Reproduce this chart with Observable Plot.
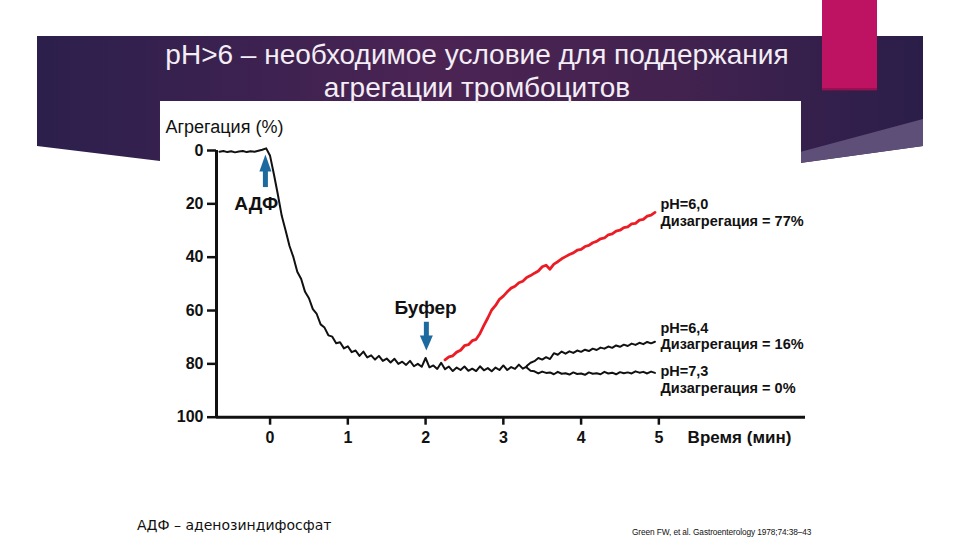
<!DOCTYPE html>
<html>
<head>
<meta charset="utf-8">
<script src="https://cdn.jsdelivr.net/npm/d3@7"></script>
<script src="https://cdn.jsdelivr.net/npm/@observablehq/plot@0.6"></script>
<style>
  html, body { margin: 0; padding: 0; background: #fff; }
  #slide { position: relative; width: 960px; height: 540px; overflow: hidden; background: #fff; font-family: "Liberation Sans", Arial, sans-serif; }
  #bg { position: absolute; left: 0; top: 0; }
  #title { position: absolute; left: 0; top: 38px; width: 954px; text-align: center; color: #f3edf5; font-size: 28px; line-height: 33px; }
  #chart { position: absolute; left: 150px; top: 100px; }
  #note { position: absolute; left: 137px; top: 517px; font-family: "DejaVu Sans", sans-serif; font-size: 14px; color: #111; }
  #cite { position: absolute; left: 632px; top: 527px; font-family: "Liberation Sans", Arial, sans-serif; font-size: 8.3px; color: #111; letter-spacing: -0.1px; }
</style>
</head>
<body>
<div id="slide">
  <svg id="bg" width="960" height="540">
    <defs>
      <linearGradient id="band" x1="0" x2="1" y1="0" y2="0">
        <stop offset="0" stop-color="#2c1f4c"/>
        <stop offset="0.45" stop-color="#4b2454"/>
        <stop offset="0.72" stop-color="#43224f"/>
        <stop offset="1" stop-color="#2a1e49"/>
      </linearGradient>
    </defs>
    <polygon points="37,36 923,36 923,146 800,163 160,161 37,146" fill="url(#band)"/>
    <polygon points="800,152 923,119 923,146 800,163" fill="#5e4f78"/>
    <rect x="822" y="0" width="55" height="90" fill="#be1262"/>
    <rect x="822" y="88" width="55" height="3" fill="#7a1048" opacity="0.6"/>
    <rect x="160" y="101" width="641" height="440" fill="#fff"/>
  </svg>
  <div id="title">pH&gt;6 – необходимое условие для поддержания<br>агрегации тромбоцитов</div>
  <div id="chart"></div>
  <div id="note">АДФ – аденозиндифосфат</div>
  <div id="cite">Green FW, et al. Gastroenterology 1978;74:38–43</div>
</div>
<script>
// ---- data (time in minutes, aggregation in %) ----
const dt = 0.05;
const baseStart = -0.65;
const baseValues = [0.5, 0.2, 0.6, 0.3, 0.7, 0.4, 0.2, 0.6, 0.3, 0.5, 0.1, -0.3, -0.8,
  2.0, 9.0, 16.5, 24.5, 30.0, 35.8, 40.0, 45.5, 48.2, 53.0, 55.4, 59.5, 61.3, 65.2, 66.4, 69.3, 69.8, 72.3, 71.9, 74.2,
  73.4, 75.6, 75.0, 77.0, 75.4, 77.6, 76.8, 78.4, 77.0, 78.9, 78.0, 79.5, 78.1, 80.0, 79.2, 80.4, 78.9, 80.9, 80.0, 81.1,
  77.8, 81.3, 80.6, 81.9, 79.6, 82.0, 81.0, 82.7, 81.4, 82.3, 81.0, 82.6, 81.8, 82.7, 80.9, 82.4, 81.6, 82.8, 81.4, 82.3,
  80.6, 82.3, 81.2, 81.9, 80.3, 81.8, 81.0];
const branchStart = 3.30;
const ph73Values = [81.4, 82.6, 82.8, 83.6, 82.9, 83.4, 83.2, 83.9, 83.0, 83.7, 83.5, 84.0, 83.2, 83.8, 83.6, 84.1, 83.2,
  83.7, 83.5, 83.9, 83.0, 83.6, 83.3, 83.9, 83.1, 83.5, 83.2, 83.6, 82.8, 83.3, 83.0, 83.6, 82.9, 83.4];
const ph64Values = [80.8, 79.6, 79.0, 77.8, 78.4, 77.5, 78.2, 76.0, 76.6, 75.4, 76.2, 75.3, 75.9, 75.0, 75.5,
  74.7, 75.2, 74.3, 74.8, 73.9, 74.3, 73.5, 74.0, 73.1, 73.6, 72.8, 73.3, 72.4, 72.9, 72.1, 72.6, 71.8, 72.3, 71.7];
const redStart = 2.25;
const ph60Values = [78.5, 77.4, 77.0, 75.6, 74.9, 73.2, 72.8, 71.3, 70.8, 68.6, 65.6, 62.8, 59.8, 58.1, 55.8, 54.6,
  53.0, 51.6, 50.9, 49.6, 49.0, 47.6, 46.9, 46.0, 45.2, 43.6, 43.0, 44.5, 42.6, 41.7, 40.6, 39.8, 39.0, 38.4, 37.4,
  37.1, 36.0, 35.6, 34.6, 34.1, 33.1, 32.8, 31.6, 31.3, 30.2, 29.9, 28.9, 28.6, 27.5, 27.3, 26.1, 25.8, 24.6, 24.2, 23.2];

const xDomain = [-0.689, 6.886];
const xTicks = [0, 1, 2, 3, 4, 5];
const yTicks = [0, 20, 40, 60, 80, 100];
const yLabel = "Агрегация (%)";
const xLabel = "Время (мин)";

// arrows: time, tail value, tip value
const arrowTimes = [-0.06, 2.01];
const arrowTails = [13.9, 64.4];
const arrowTips = [1.5, 75];
const arrowDirs = ["up", "down"];

const eventLabels = ["АДФ", "Буфер"];
const eventLabelT = [-0.46, 2.0];
const eventLabelV = [20, 59];

const curveLabels = ["pH=6,0\nДизагрегация = 77%", "pH=6,4\nДизагрегация = 16%", "pH=7,3\nДизагрегация = 0%"];
const curveLabelT = [5.02, 5.02, 5.02];
const curveLabelV = [23.1, 69.4, 85.6];

// ---- build tables ----
const series = (start, vals) => vals.map((v, i) => ({t: start + i * dt, v}));
const base = series(baseStart, baseValues);
const ph73 = series(branchStart, ph73Values);
const ph64 = series(branchStart, ph64Values);
const ph60 = series(redStart, ph60Values);

const arrows = arrowTimes.map((t, i) => ({t, tail: arrowTails[i], tip: arrowTips[i], dir: arrowDirs[i]}));
const events = eventLabels.map((text, i) => ({text, t: eventLabelT[i], v: eventLabelV[i]}));
const curves = curveLabels.map((text, i) => ({text, t: curveLabelT[i], v: curveLabelV[i]}));

const blue = "#1d6a9e";
const headUp = {draw(ctx) { ctx.moveTo(0, 0); ctx.lineTo(-6, 17); ctx.lineTo(6, 17); ctx.closePath(); }};
const headDown = {draw(ctx) { ctx.moveTo(0, 0); ctx.lineTo(-6.5, -15); ctx.lineTo(6.5, -15); ctx.closePath(); }};

const chart = Plot.plot({
  width: 670,
  height: 360,
  marginLeft: 66,
  marginRight: 15,
  marginTop: 50,
  marginBottom: 43.3,
  x: {domain: xDomain},
  y: {domain: [0, 100], reverse: true},
  style: {background: "transparent", fontFamily: "'Liberation Sans', Arial, sans-serif", color: "#111", overflow: "visible"},
  marks: [
    Plot.axisY({ticks: yTicks, tickSize: 9, tickPadding: 4, fontSize: 16, fontWeight: "bold", strokeWidth: 2.5, label: null}),
    Plot.axisX({ticks: xTicks, tickSize: 8, tickPadding: 6, fontSize: 16, fontWeight: "bold", strokeWidth: 2.5, label: null}),
    Plot.ruleX([xDomain[0]], {stroke: "#111", strokeWidth: 3}),
    Plot.ruleY([100], {stroke: "#111", strokeWidth: 3}),
    Plot.line(base, {x: "t", y: "v", stroke: "#111", strokeWidth: 2}),
    Plot.line(ph73, {x: "t", y: "v", stroke: "#111", strokeWidth: 2}),
    Plot.line(ph64, {x: "t", y: "v", stroke: "#111", strokeWidth: 2}),
    Plot.line(ph60, {x: "t", y: "v", stroke: "#ec1c24", strokeWidth: 2.8}),
    Plot.ruleX(arrows, {x: "t", y1: "tail", y2: d => d.dir === "up" ? d.tip + 4 : d.tip - 4, stroke: blue, strokeWidth: 5}),
    Plot.dot(arrows.filter(d => d.dir === "up"), {x: "t", y: "tip", symbol: headUp, fill: blue, stroke: "none"}),
    Plot.dot(arrows.filter(d => d.dir === "down"), {x: "t", y: "tip", symbol: headDown, fill: blue, stroke: "none"}),
    Plot.text(events.slice(0, 1), {x: "t", y: "v", text: "text", textAnchor: "start", lineAnchor: "middle", fontSize: 19, fontWeight: "bold", fill: "#111"}),
    Plot.text(events.slice(1), {x: "t", y: "v", text: "text", textAnchor: "middle", lineAnchor: "middle", fontSize: 19, fontWeight: "bold", fill: "#111"}),
    Plot.text(curves, {x: "t", y: "v", text: "text", textAnchor: "start", lineAnchor: "middle", lineHeight: 1.16, fontSize: 14.5, fontWeight: "bold", fill: "#111"}),
    Plot.text([xLabel], {x: 5.37, y: 100, dy: 20, textAnchor: "start", lineAnchor: "middle", fontSize: 17, fontWeight: "bold", fill: "#111"}),
    Plot.text([yLabel], {frameAnchor: "top-left", dx: -51, dy: -23.3, textAnchor: "start", lineAnchor: "middle", fontSize: 18, fill: "#111"})
  ]
});
document.getElementById("chart").appendChild(chart);
</script>
</body>
</html>
